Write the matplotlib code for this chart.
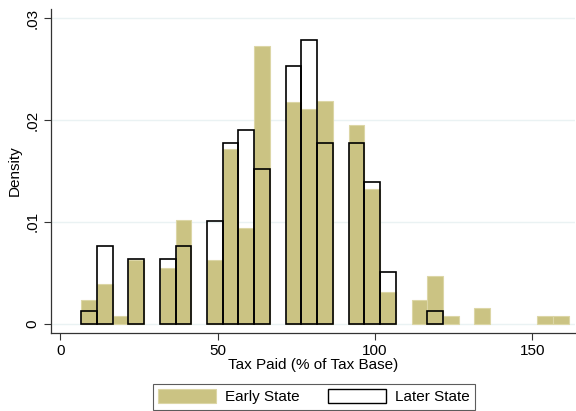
import numpy as np
import matplotlib
matplotlib.use("Agg")
import matplotlib.pyplot as plt
from matplotlib.patches import Patch

plt.rcParams['font.family'] = ['Liberation Sans', 'DejaVu Sans']

# histogram bins (% of tax base)
bin_start = 6.6
bin_width = 5.0

# density per bin (31 bins)
early_density = [0.00236, 0.00390, 0.00079, 0.00629, 0.0, 0.00547, 0.01016, 0.0,
                 0.00626, 0.01719, 0.00937, 0.02730, 0.0, 0.02180, 0.02106, 0.02188,
                 0.0, 0.01949, 0.01326, 0.00311, 0.0, 0.00233, 0.00469, 0.00079,
                 0.0, 0.00157, 0.0, 0.0, 0.0, 0.00079, 0.00079]
later_density = [0.00125, 0.00758, 0.0, 0.00632, 0.0, 0.00632, 0.00758, 0.0,
                 0.01010, 0.01772, 0.01900, 0.01517, 0.0, 0.02530, 0.02787, 0.01772,
                 0.0, 0.01772, 0.01392, 0.00505, 0.0, 0.0, 0.00125, 0.0,
                 0.0, 0.0, 0.0, 0.0, 0.0, 0.0, 0.0]

x_ticks = [0, 50, 100, 150]
y_ticks = [0, 0.01, 0.02, 0.03]
y_tick_labels = ["0", ".01", ".02", ".03"]

early_color = "#CBC383"
early_edge = "#DCD6A6"
fs = 11

fig = plt.figure(figsize=(5.76, 4.11), dpi=100)
ax = fig.add_axes([0.0885, 0.19, 0.91, 0.788])

lefts = bin_start + bin_width * np.arange(len(early_density))
early = np.array(early_density)
later = np.array(later_density)

for y in y_ticks:
    ax.axhline(y, color="#EAF2F3", lw=1.0, zorder=0)

m = early > 0
ax.bar(lefts[m], early[m], width=bin_width, align="edge",
       color=early_color, edgecolor=early_edge, linewidth=0.8, zorder=2)
m = later > 0
ax.bar(lefts[m], later[m], width=bin_width, align="edge",
       facecolor="none", edgecolor="black", linewidth=1.2, zorder=3)

ax.set_xlim(-3.0, 163.6)
ax.set_ylim(-0.00091, 0.0309)
ax.set_xticks(x_ticks)
ax.set_yticks(y_ticks)
ax.set_yticklabels(y_tick_labels, rotation=90, va="center")
ax.tick_params(axis="both", labelsize=fs, length=5, width=0.8, color="#333333", pad=3)

for side in ["top", "right"]:
    ax.spines[side].set_visible(False)
for side in ["left", "bottom"]:
    ax.spines[side].set_color("#333333")
    ax.spines[side].set_linewidth(0.9)

ax.set_xlabel("Tax Paid (% of Tax Base)", fontsize=fs, labelpad=0)
ax.set_ylabel("Density", fontsize=fs, labelpad=3)

handles = [Patch(facecolor=early_color, edgecolor=early_edge, linewidth=0.8),
           Patch(facecolor="white", edgecolor="black", linewidth=1.0)]
leg = fig.legend(handles, ["Early State", "Later State"], loc="lower center",
                 bbox_to_anchor=(0.545, 0.003), ncol=2, fontsize=fs, frameon=True,
                 fancybox=False, handlelength=3.8, handleheight=1.0, handletextpad=0.6,
                 columnspacing=1.8, borderpad=0.35, borderaxespad=0)
leg.get_frame().set_edgecolor("#333333")
leg.get_frame().set_linewidth(0.8)

fig.savefig("out.png", dpi=100)
